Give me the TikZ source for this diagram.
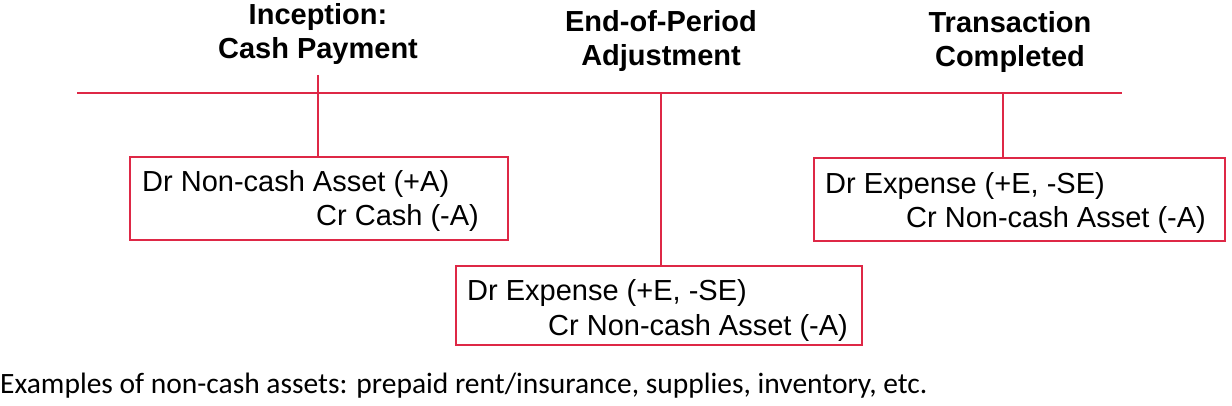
\documentclass[tikz,border=0pt]{standalone}
\usepackage{fontspec}
\setmainfont{Liberation Sans}
\newfontfamily\calfont{Carlito}
\definecolor{lred}{RGB}{222,40,70}
\begin{document}
\begin{tikzpicture}[x=1pt,y=-1pt,
  head/.style={font=\fontsize{29}{34}\selectfont\bfseries,align=center,inner sep=0},
  txt/.style={font=\fontsize{29}{28}\selectfont,inner sep=0,anchor=west},
  ln/.style={draw=lred,line width=1.3pt}]
\useasboundingbox (0,0) rectangle (1232,406);
\node[head] (h1) at (318,34) {Inception:\\Cash Payment};
\node[head] (h2) at (661,41) {End-of-Period\\Adjustment};
\node[head] (h3) at (1010,42) {Transaction\\Completed};
\coordinate (la) at (77,93); \coordinate (lb) at (1122,93);
\draw[ln] (la) -- (lb);
\draw[ln] (130,157) rectangle (508,240);
\draw[ln] (456,266) rectangle (862,345);
\draw[ln] (814,158) rectangle (1225,241);
\coordinate (v1a) at (318,75); \coordinate (v1b) at (318,157);
\coordinate (v2a) at (661,93); \coordinate (v2b) at (661,266);
\coordinate (v3a) at (1003,93); \coordinate (v3b) at (1003,158);
\draw[ln] (v1a) -- (v1b);
\draw[ln] (v2a) -- (v2b);
\draw[ln] (v3a) -- (v3b);
\node[txt] (a1) at (142,184) {Dr Non-cash Asset (+A)};
\node[txt] (a2) at (316,218) {Cr Cash (-A)};
\node[txt] (b1) at (467,293) {Dr Expense (+E, -SE)};
\node[txt] (b2) at (548,328) {Cr Non-cash Asset (-A)};
\node[txt] (c1) at (825,186) {Dr Expense (+E, -SE)};
\node[txt] (c2) at (906,220) {Cr Non-cash Asset (-A)};
\node[anchor=west,inner sep=0,font=\calfont\fontsize{29.5}{34}\selectfont] (f) at (0,386) {Examples of non-cash assets: prepaid rent/insurance, supplies, inventory, etc.};
\end{tikzpicture}
\end{document}
